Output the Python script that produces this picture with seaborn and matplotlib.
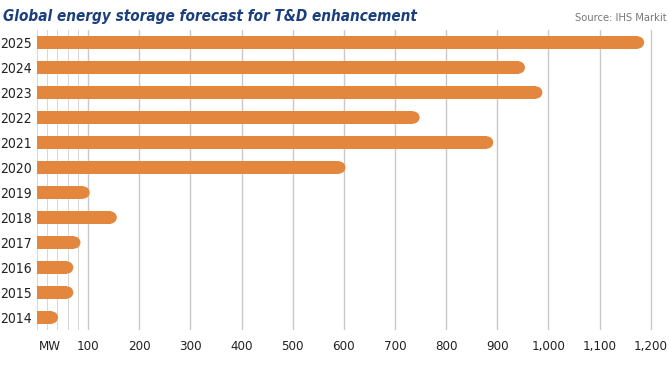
import matplotlib
matplotlib.use("Agg")
import matplotlib.pyplot as plt
from matplotlib.patches import Ellipse
import pandas as pd
import seaborn as sns

years = ["2025", "2024", "2023", "2022", "2021", "2020",
         "2019", "2018", "2017", "2016", "2015", "2014"]
mw = [1187, 954, 988, 748, 892, 603, 103, 156, 85, 71, 71, 41]
major_ticks = [100, 200, 300, 400, 500, 600, 700, 800, 900, 1000, 1100, 1200]
major_labels = ["100", "200", "300", "400", "500", "600", "700", "800",
                "900", "1,000", "1,100", "1,200"]
minor_ticks = [0, 20, 40, 60, 80]

sns.set_theme(style="white")
plt.rcParams["font.family"] = ["DejaVu Sans"]
plt.rcParams["font.stretch"] = "condensed"

df = pd.DataFrame({"year": years, "mw": mw})

fig = plt.figure(figsize=(6.69, 3.75), dpi=100)
ax = fig.add_axes([37 / 669, 45 / 375, 623 / 669, 300 / 375])

orange = "#e3873f"
sns.barplot(data=df, x="mw", y="year", order=years, orient="h",
            color=orange, saturation=1, width=0.5, ax=ax, zorder=3,
            linewidth=0)

xmax = 1218
ax.set_xlim(0, xmax)
ax.set_ylim(11.5, -0.5)

# rounded right end on each bar (circle in pixel space)
bar_h = 0.5
px_per_unit_x = 623 / xmax
px_per_unit_y = 300 / 12
r_data = (bar_h * px_per_unit_y / 2) / px_per_unit_x
for p in list(ax.patches):
    w = p.get_width()
    x0 = p.get_x()
    yc = p.get_y() + p.get_height() / 2
    p.set_y(yc - bar_h / 2)
    p.set_height(bar_h)
    p.set_width(max(w - r_data, 0))
    ax.add_patch(Ellipse((x0 + w - r_data, yc), 2 * r_data, bar_h * 0.97,
                         facecolor=orange, edgecolor="none", lw=0, zorder=3))

for v in major_ticks:
    ax.axvline(v, color="#c9c9c9", lw=1.0, zorder=1)
for v in minor_ticks:
    ax.axvline(v, color="#d6d6d6", lw=0.7, zorder=1)

ax.set_xticks([25] + major_ticks)
ax.set_xticklabels(["MW"] + major_labels, fontsize=9.5, color="#222222")
ax.tick_params(axis="x", length=0, pad=7)
ax.tick_params(axis="y", length=0, pad=4)
for lab in ax.get_yticklabels():
    lab.set_fontsize(10)
    lab.set_color("#222222")
ax.set_xlabel("")
ax.set_ylabel("")
sns.despine(ax=ax, left=True, bottom=True)

fig.text(3 / 669, 1 - 17 / 375, "Global energy storage forecast for T&D enhancement",
         fontsize=11, fontweight="bold", fontstyle="italic", color="#1b3f7c",
         va="center", ha="left")
fig.text(667 / 669, 1 - 18 / 375, "Source: IHS Markit", fontsize=8,
         color="#777777", va="center", ha="right")

fig.savefig("out.png", dpi=100)
